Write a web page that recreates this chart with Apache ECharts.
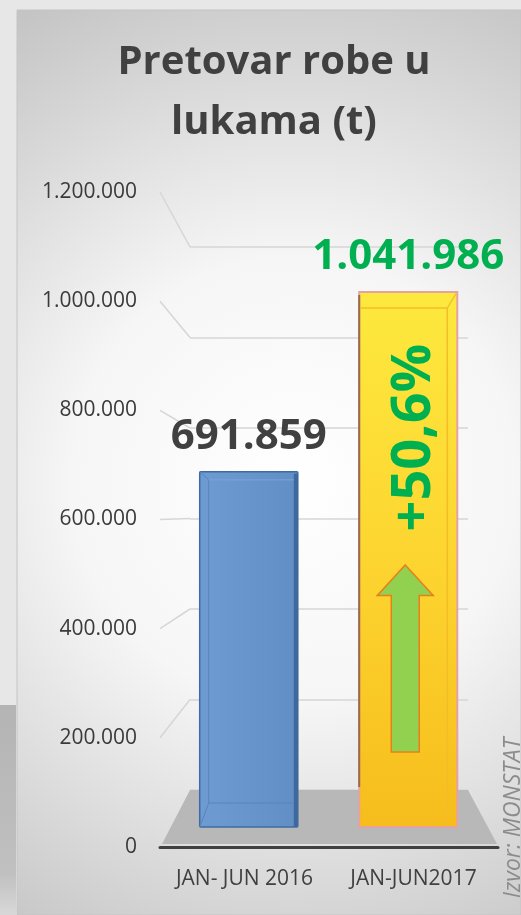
<!DOCTYPE html>
<html>
<head>
<meta charset="utf-8">
<script src="https://cdn.jsdelivr.net/npm/echarts@6/dist/echarts.min.js"></script>
<style>
html,body{margin:0;padding:0;background:#e7e7e7;}
#c{width:521px;height:915px;}
</style>
</head>
<body>
<div id="c"></div>
<script>
// ---- data ----
const categories = ['JAN- JUN 2016', 'JAN-JUN2017'];
const values = [691859, 1041986];
const axisMin = 0;
const axisMax = 1200000;
const axisStep = 200000;
const titleLines = ['Pretovar robe u', 'lukama (t)'];
const sourceText = 'Izvor: MONSTAT';

// ---- helpers ----
function fmt(n) { return String(n).replace(/\B(?=(\d{3})+(?!\d))/g, '.'); }
const growth = '+' + ((values[1] / values[0] - 1) * 100).toFixed(1).replace('.', ',') + '%';
const FONT = '"Open Sans", "DejaVu Sans", sans-serif';

const chart = echarts.init(document.getElementById('c'), null, { renderer: 'canvas' });

function renderBar(params, api) {
  const i = api.value(0), v = api.value(1);
  const top = api.coord([i, v]);
  const base = api.coord([i, 0]);
  const w = api.size([1, 0])[0] * 0.615;
  const cx = top[0];
  const x0 = cx - w / 2, x1 = cx + w / 2, y0 = top[1], y1 = base[1];
  const h = y1 - y0;
  const children = [];
  if (i === 0) {
    children.push({ type: 'rect', shape: { x: x0, y: y0, width: w, height: h, r: 1 },
      style: { fill: new echarts.graphic.LinearGradient(0, 0, 1, 0, [
        { offset: 0, color: '#6e9bd2' }, { offset: 1, color: '#628ec6' }]), stroke: '#3f6ba3', lineWidth: 1.5 } });
    children.push({ type: 'rect', shape: { x: x1 - 4, y: y0 + 2, width: 4, height: h - 2 },
      style: { fill: '#3f699d' } });
    children.push({ type: 'polyline', shape: { points: [[x0 + 9, y0 + 8], [x0 + 9, y1 - 24], [x1 - 4, y1 - 24]] },
      style: { stroke: '#5a84ba', lineWidth: 1, fill: null } });
    children.push({ type: 'line', shape: { x1: x0, y1: y1, x2: x0 + 9, y2: y1 - 24 }, style: { stroke: '#5a84ba', lineWidth: 1 } });
    children.push({ type: 'line', shape: { x1: x0, y1: y0, x2: x0 + 9, y2: y0 + 8 }, style: { stroke: '#5a84ba', lineWidth: 1 } });
    children.push({ type: 'line', shape: { x1: x0 + 9, y1: y0 + 8, x2: x1 - 4, y2: y0 + 8 }, style: { stroke: '#7aa4d8', lineWidth: 1 } });
    children.push({ type: 'text', style: { x: cx, y: y0 - 35, text: fmt(v), fill: '#404040',
      font: 'bold 42px ' + FONT, align: 'center', verticalAlign: 'middle' } });
  } else {
    children.push({ type: 'rect', shape: { x: x0, y: y0, width: w, height: h },
      style: { fill: new echarts.graphic.LinearGradient(0, 0, 0, 1, [
        { offset: 0, color: '#fde93e' }, { offset: 0.5, color: '#fdd530' }, { offset: 1, color: '#f6bd1c' }]),
        stroke: '#e3a3a2', lineWidth: 2 } });
    children.push({ type: 'line', shape: { x1: x0, y1: y0 + 3, x2: x0, y2: y1 - 40 }, style: { stroke: '#9a6a4a', lineWidth: 2 } });
    children.push({ type: 'polyline', shape: { points: [[x0 + 1, y0 + 16], [x1 - 10, y0 + 16], [x1 - 10, y1 - 1]] },
      style: { stroke: '#f3bd2a', lineWidth: 1.5, fill: null } });
    children.push({ type: 'line', shape: { x1: x1 - 10, y1: y0 + 16, x2: x1 - 1, y2: y0 + 1 }, style: { stroke: '#f3bd2a', lineWidth: 1.2 } });
    // arrow
    const ax = cx - 3, tipY = y0 + 0.51 * h, headY = y0 + 0.567 * h, botY = y1 - 0.14 * h;
    children.push({ type: 'polygon', shape: { points: [
      [ax, tipY], [ax + 28, headY], [ax + 14, headY], [ax + 14, botY], [ax - 14, botY], [ax - 14, headY], [ax - 28, headY]] },
      style: { fill: '#92d050', stroke: '#e8801a', lineWidth: 1.5 } });
    children.push({ type: 'text', rotation: Math.PI / 2, x: cx + 6, y: y0 + 0.272 * h,
      style: { x: 0, y: 0, text: growth, fill: '#00b050', font: 'bold 54px ' + FONT, align: 'center', verticalAlign: 'middle' } });
    children.push({ type: 'text', style: { x: cx, y: y0 - 35, text: fmt(v), fill: '#00b050',
      font: 'bold 42px ' + FONT, align: 'center', verticalAlign: 'middle' } });
  }
  return { type: 'group', children: children };
}

const option = {
  animation: false,
  backgroundColor: '#e7e7e7',
  grid: [
    { left: 160, right: 23, top: 192, bottom: 68 },   // front axis
    { left: 190, right: 53, top: 247, bottom: 125 },  // back wall
    { left: 169, right: 33, top: 211, bottom: 88 }    // bars plane
  ],
  xAxis: [
    { gridIndex: 0, type: 'category', data: categories,
      axisLine: { lineStyle: { color: '#404040', width: 3 } }, axisTick: { show: false },
      axisLabel: { color: '#404040', fontSize: 21, fontFamily: FONT, margin: 22, interval: 0, hideOverlap: false }, z: 5 },
    { gridIndex: 1, type: 'category', data: categories, show: false },
    { gridIndex: 2, type: 'category', data: categories, show: false }
  ],
  yAxis: [
    { gridIndex: 0, type: 'value', min: axisMin, max: axisMax, interval: axisStep,
      axisLine: { show: false }, axisTick: { show: false }, splitLine: { show: false },
      axisLabel: { color: '#3a3a3a', fontSize: 21, fontFamily: FONT, margin: 23, formatter: fmt } },
    { gridIndex: 1, type: 'value', min: axisMin, max: axisMax, interval: axisStep,
      axisLine: { show: false }, axisTick: { show: false }, axisLabel: { show: false },
      splitLine: { lineStyle: { color: '#d6d6d6', width: 1.5 } } },
    { gridIndex: 2, type: 'value', min: axisMin, max: axisMax, show: false }
  ],
  series: [
    { type: 'custom', xAxisIndex: 2, yAxisIndex: 2, z: 10,
      data: values.map((v, i) => [i, v]), renderItem: renderBar }
  ]
};
chart.setOption(option);

// decorations computed from the axes
const ticks = [];
for (let v = axisMin; v <= axisMax; v += axisStep) ticks.push(v);
const fy = v => chart.convertToPixel({ yAxisIndex: 0 }, v);
const by = v => chart.convertToPixel({ yAxisIndex: 1 }, v);
const frontL = 160, backL = 190, backR = 521 - 53, frontR = 521 - 23;

const graphics = [
  { type: 'rect', z: -10, shape: { x: 17, y: 10, width: 504, height: 905 },
    style: { fill: new echarts.graphic.RadialGradient(0.55, 0.52, 1.1, [
      { offset: 0, color: '#ffffff' }, { offset: 0.4, color: '#f6f6f6' }, { offset: 1, color: '#c2c2c2' }]),
      stroke: '#c4c4c4', lineWidth: 1 } },
  { type: 'rect', z: -10, shape: { x: 0, y: 705, width: 16, height: 210 },
    style: { fill: new echarts.graphic.LinearGradient(0, 0, 0, 1, [
      { offset: 0, color: '#b4b4b4' }, { offset: 0.8, color: '#c0c0c0' }, { offset: 1, color: '#d8d8d8' }]) } },
  { type: 'polygon', z: 2, shape: { points: [[frontL + 2, fy(0) - 3], [backL, by(0)], [backR, by(0)], [frontR - 1, fy(0) - 3]] },
    style: { fill: '#b8b8b8' } }
];
ticks.forEach(v => {
  if (v === axisMin) return;
  graphics.push({ type: 'line', z: 1, shape: { x1: frontL, y1: fy(v), x2: backL, y2: by(v) },
    style: { stroke: '#d6d6d6', lineWidth: 1.5 } });
});
titleLines.forEach((t, k) => {
  graphics.push({ type: 'text', z: 20, style: { x: 274, y: 63 + k * 60, text: t, fill: '#404040',
    font: 'bold 40px ' + FONT, align: 'center', verticalAlign: 'middle' } });
});
graphics.push({ type: 'text', z: 20, rotation: Math.PI / 2, x: 513, y: 818,
  style: { x: 0, y: 0, text: sourceText, fill: '#8c8c8c', font: 'italic 23px ' + FONT, align: 'center', verticalAlign: 'middle' } });

chart.setOption({ graphic: graphics });
</script>
</body>
</html>
